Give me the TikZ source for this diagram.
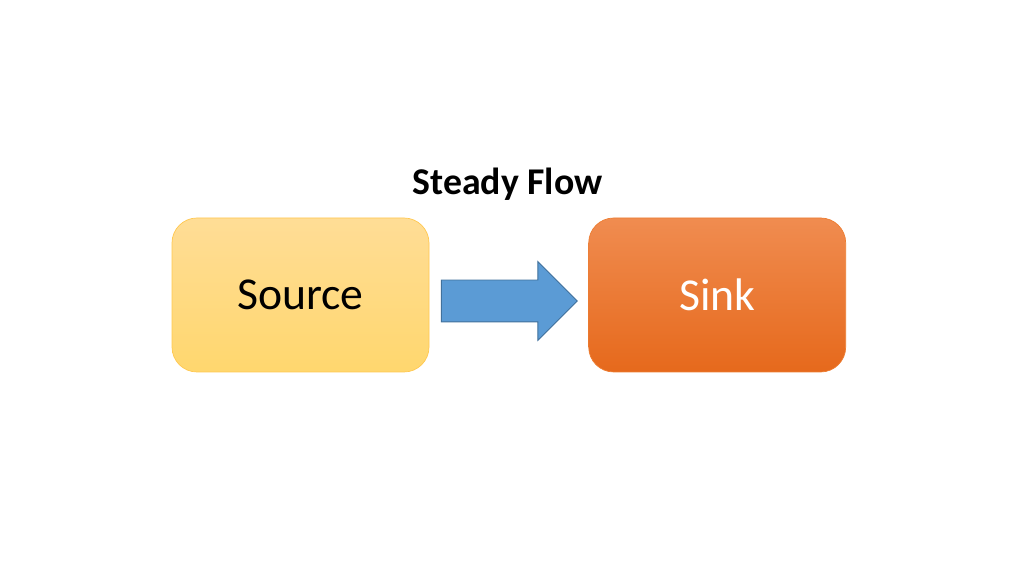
\documentclass[tikz,border=0pt]{standalone}
\usepackage{fontspec}
\setmainfont{Carlito}
\usetikzlibrary{positioning, shapes.arrows, calc}

\definecolor{goldtop}{RGB}{255,221,150}
\definecolor{goldbot}{RGB}{255,215,110}
\definecolor{goldline}{RGB}{255,200,80}
\definecolor{orangetop}{RGB}{240,140,80}
\definecolor{orangebot}{RGB}{230,105,28}
\definecolor{orangeline}{RGB}{237,125,49}
\definecolor{arrowfill}{RGB}{91,155,213}
\definecolor{arrowline}{RGB}{65,113,156}

\begin{document}
\begin{tikzpicture}[
    box/.style={rectangle, rounded corners=0.5cm, minimum width=5.14cm, minimum height=3.08cm, font=\fontsize{26}{30}\selectfont},
    goldbox/.style={box, draw=goldline, line width=0.4pt, top color=goldtop, bottom color=goldbot, text=black},
    orangebox/.style={box, draw=orangeline, line width=0.4pt, top color=orangetop, bottom color=orangebot, text=white},
    flowarrow/.style={single arrow, draw=arrowline, fill=arrowfill, line width=0.5pt, inner xsep=0pt, inner ysep=0.41cm, minimum height=2.72cm, single arrow head extend=0.37cm},
    node distance=0.4cm and 3.18cm
]
\useasboundingbox (0,0) rectangle (20.48,11.52);

% boxes
\node[goldbox] (source) at (6.01,5.62) {Source};
\node[orangebox, right=of source] (sink) {Sink};

% title
\node[anchor=base, font=\bfseries\fontsize{21.5}{26}\selectfont] (title) at (10.15,7.62) {Steady Flow};

% flow arrow
\node[flowarrow, xshift=-0.2cm, yshift=-0.12cm] (flow) at ($(source.east)!0.5!(sink.west)$) {};

\end{tikzpicture}
\end{document}
